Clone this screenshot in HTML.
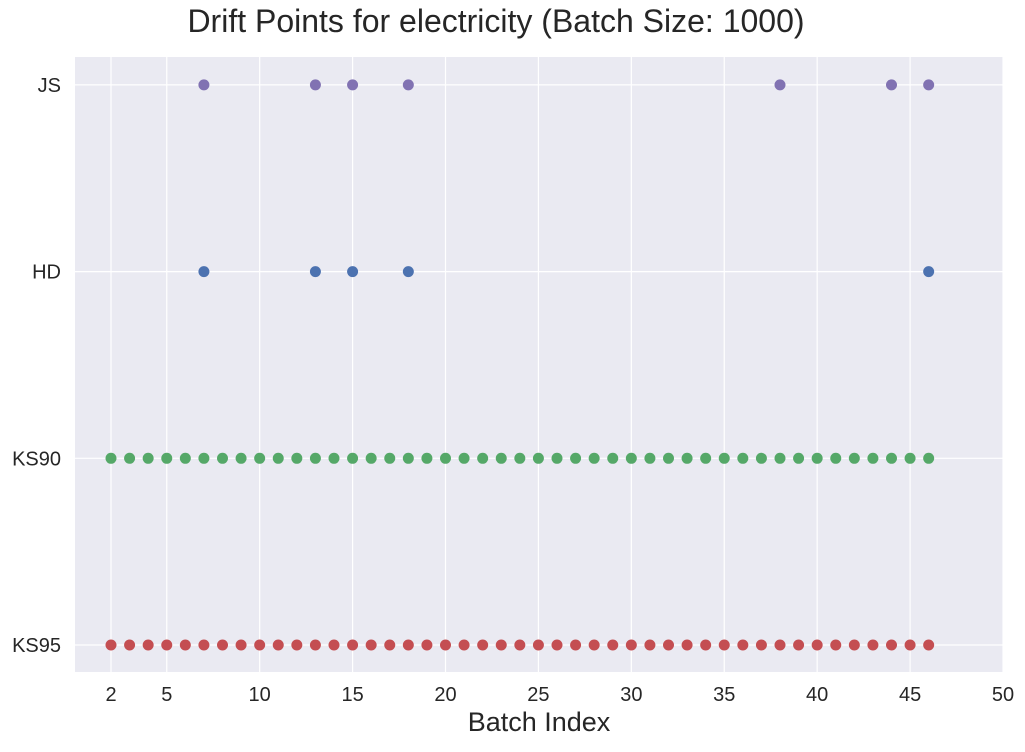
<!DOCTYPE html>
<html><head><meta charset="utf-8"><style>
body{margin:0;background:#fff;font-family:"Liberation Sans","DejaVu Sans",sans-serif;}
</style></head><body>
<svg id="chart" width="1025" height="747" xmlns="http://www.w3.org/2000/svg"></svg>
<script>
const categories = ["KS95","KS90","HD","JS"];
const ks95Batches = [2,3,4,5,6,7,8,9,10,11,12,13,14,15,16,17,18,19,20,21,22,23,24,25,26,27,28,29,30,31,32,33,34,35,36,37,38,39,40,41,42,43,44,45,46];
const ks90Batches = [2,3,4,5,6,7,8,9,10,11,12,13,14,15,16,17,18,19,20,21,22,23,24,25,26,27,28,29,30,31,32,33,34,35,36,37,38,39,40,41,42,43,44,45,46];
const hdBatches = [7,13,15,18,46];
const jsBatches = [7,13,15,18,38,44,46];
const xTicks = [2,5,10,15,20,25,30,35,40,45,50];

const NS="http://www.w3.org/2000/svg";
const svg=document.getElementById('chart');
const L=75,R=1003,T=57,B=672;
const xs=v=>111+(v-2)*(1003-111)/48;
const ys=i=>645-i*186.7;
function mk(tag,attrs,parent){const e=document.createElementNS(NS,tag);for(const k in attrs)e.setAttribute(k,attrs[k]);(parent||svg).appendChild(e);return e;}
const bg=mk('rect',{x:L,y:T,width:R-L,height:B-T,fill:'#eaeaf2'});


xTicks.forEach(t=>{
  const g=mk('line',{x1:xs(t),x2:xs(t),y1:T,y2:B,stroke:'#fff','stroke-width':1.2});
  
  
  const tx=mk('text',{x:xs(t),y:B+29,'text-anchor':'middle','font-size':20,fill:'#262626'});
  tx.textContent=t;
  
  
});
categories.forEach((c,i)=>{
  const g=mk('line',{x1:L,x2:R,y1:ys(i),y2:ys(i),stroke:'#fff','stroke-width':1.2});
  
  
  const tx=mk('text',{x:L-14,y:ys(i)+7,'text-anchor':'end','font-size':20,fill:'#262626'});
  tx.textContent=c;
  
  
});
const series=[[ks95Batches,'#c44e52','ks95-point'],[ks90Batches,'#55a868','ks90-point'],[hdBatches,'#4c72b0','hd-point'],[jsBatches,'#8172b2','js-point']];
series.forEach(([arr,col,name],i)=>{
  arr.forEach(v=>{
    const c=mk('circle',{cx:xs(v),cy:ys(i),r:5.5,fill:col});
    
    
  });
});
const title=mk('text',{x:496,y:32,'text-anchor':'middle','font-size':32,fill:'#262626'});
title.textContent='Drift Points for electricity (Batch Size: 1000)';


const xl=mk('text',{x:(L+R)/2,y:731,'text-anchor':'middle','font-size':27,fill:'#262626'});
xl.textContent='Batch Index';


</script>
</body></html>
